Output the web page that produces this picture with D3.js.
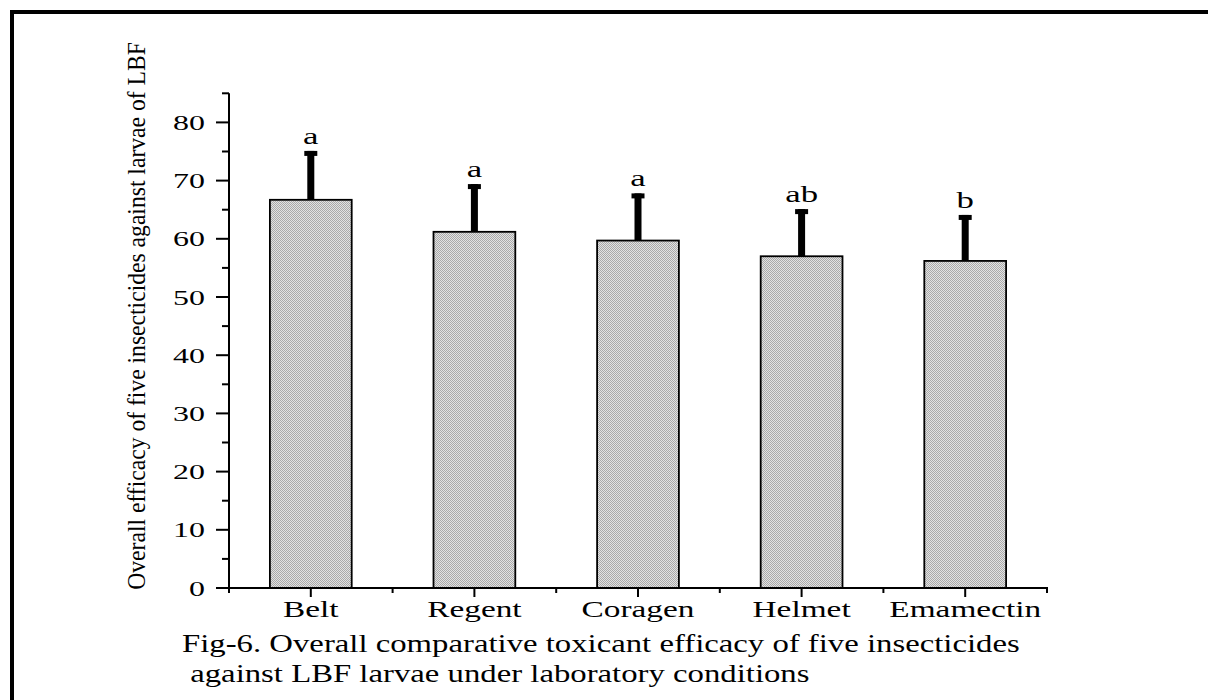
<!DOCTYPE html>
<html><head><meta charset="utf-8">
<script src="https://cdn.jsdelivr.net/npm/d3@7"></script>
<style>html,body{margin:0;padding:0;background:#fff;}svg{display:block;}</style>
</head><body>
<svg id="c" width="1208" height="700"></svg>
<script>
const categories = ["Belt","Regent","Coragen","Helmet","Emamectin"];
const efficacy   = [66.7, 61.2, 59.7, 57.0, 56.2];
const errorUpper = [8.4, 8.2, 8.1, 8.1, 7.9];
const groupLetters = ["a","a","a","ab","b"];
const yTicks = [0,10,20,30,40,50,60,70,80];
const yLabel = "Overall efficacy of five insecticides against larvae of LBF";
const captionLines = ["Fig-6. Overall comparative toxicant efficacy of five insecticides",
                      " against LBF larvae under laboratory conditions"];

const svg = d3.select("#c");
const SX = 1.45; // horizontal stretch of the reference image
const FONT = "'Liberation Serif','Times New Roman',serif";

// frame
svg.append("line").attr("x1",10).attr("x2",1208).attr("y1",12).attr("y2",12).attr("stroke","#000").attr("stroke-width",4);
svg.append("line").attr("x1",12).attr("x2",12).attr("y1",10).attr("y2",700).attr("stroke","#000").attr("stroke-width",4);

// pattern
const defs = svg.append("defs");
const pat = defs.append("pattern").attr("id","fillpat").attr("patternUnits","userSpaceOnUse")
  .attr("width",2).attr("height",2);
pat.append("rect").attr("width",2).attr("height",2).attr("fill","#e2e2e2");
pat.append("rect").attr("x",0).attr("y",0).attr("width",1).attr("height",1).attr("fill","#a9a9a9");
pat.append("rect").attr("x",1).attr("y",1).attr("width",1).attr("height",1).attr("fill","#a9a9a9");

const x0 = 229, x1 = 1047, yBase = 588, yTop = 93.3;
const x = d3.scaleBand().domain(categories).range([x0,x1]).paddingInner(0.5).paddingOuter(0.25);
const y = d3.scaleLinear().domain([0,85]).range([yBase,yTop]);

// bars
svg.selectAll("rect.bar").data(categories).join("rect").attr("class","bar")
  .attr("x",d=>x(d)).attr("width",x.bandwidth())
  .attr("y",(d,i)=>y(efficacy[i])).attr("height",(d,i)=>yBase-y(efficacy[i]))
  .attr("fill","url(#fillpat)").attr("stroke","#000").attr("stroke-width",1.8);

// error bars
categories.forEach((c,i)=>{
  const cx = x(c)+x.bandwidth()/2;
  const top = y(efficacy[i]+errorUpper[i]);
  svg.append("rect").attr("x",cx-3.5).attr("width",7).attr("y",top).attr("height",y(efficacy[i])-top).attr("fill","#000");
  svg.append("rect").attr("x",cx-6.5).attr("width",13).attr("y",top).attr("height",5).attr("fill","#000");
  svg.append("text").attr("transform",`translate(${cx},${top-7}) scale(${SX},1)`)
    .attr("text-anchor","middle").attr("font-family",FONT).attr("font-size",24).text(groupLetters[i]);
});

// y axis
const ax = svg.append("g");
ax.append("line").attr("x1",x0).attr("x2",x0).attr("y1",yBase+1).attr("y2",yTop).attr("stroke","#000").attr("stroke-width",2);
d3.range(0,86,5).forEach(v=>{
  const major = v%10===0;
  ax.append("line").attr("x1",x0).attr("x2",x0-(major?13:7)).attr("y1",y(v)).attr("y2",y(v)).attr("stroke","#000").attr("stroke-width",2);
});
yTicks.forEach(v=>{
  ax.append("text").attr("transform",`translate(205,${y(v)+7.5}) scale(${SX},1)`)
    .attr("text-anchor","end").attr("font-family",FONT).attr("font-size",22).text(v);
});

// x axis
ax.append("line").attr("x1",x0-1).attr("x2",x1+1).attr("y1",yBase).attr("y2",yBase).attr("stroke","#000").attr("stroke-width",2);
categories.forEach((c,i)=>{
  const cx = x(c)+x.bandwidth()/2;
  ax.append("line").attr("x1",cx).attr("x2",cx).attr("y1",yBase).attr("y2",yBase+9).attr("stroke","#000").attr("stroke-width",2);
  ax.append("text").attr("transform",`translate(${cx},617) scale(${SX},1)`)
    .attr("text-anchor","middle").attr("font-family",FONT).attr("font-size",23).text(c);
});
d3.range(categories.length+1).forEach(i=>{
  const bx = x0 + i*x.step();
  ax.append("line").attr("x1",bx).attr("x2",bx).attr("y1",yBase).attr("y2",yBase+5).attr("stroke","#000").attr("stroke-width",2);
});

// y label (rotated)
const yl = svg.append("text").attr("font-family",FONT).attr("font-size",20).attr("text-anchor","middle").text(yLabel);
const L = yl.node().getComputedTextLength();
const fs = 20*548/L;
yl.attr("font-size",fs);
const sxl = 17/(0.662*fs);
yl.attr("transform",`translate(145,316) scale(${sxl},1) rotate(-90)`);

// caption
const cap = svg.append("g");
const t1 = cap.append("text").attr("font-family",FONT).attr("font-size",26).attr("xml:space","preserve").text(captionLines[0]);
const w1 = t1.node().getComputedTextLength();
const csx = 838/w1;
t1.attr("transform",`translate(182,652) scale(${csx},1)`);
cap.append("text").attr("font-family",FONT).attr("font-size",26).attr("xml:space","preserve").style("white-space","pre")
  .attr("transform",`translate(182,682) scale(${csx},1)`).text(captionLines[1]);
</script>
</body></html>
